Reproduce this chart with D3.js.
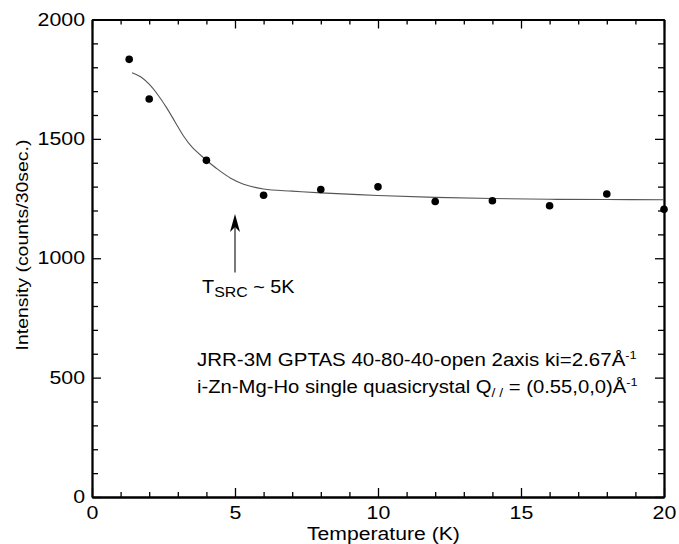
<!DOCTYPE html>
<html><head><meta charset="utf-8">
<script src="https://cdn.jsdelivr.net/npm/d3@7"></script>
<style>
body{margin:0;background:#fff}
text{font-family:"Liberation Sans",Arial,Helvetica,sans-serif;fill:#000}
</style>
</head><body>
<svg id="c" width="679" height="544"></svg>
<script>
// ---- data ----
const temperature = [1.3, 2, 4, 6, 8, 10, 12, 14, 16, 18, 20];
const intensity   = [1833, 1667, 1410, 1264, 1288, 1299, 1238, 1241, 1220, 1269, 1205];
const fitTemperature = [1.4, 1.7, 2.0, 2.3, 2.6, 2.9, 3.2, 3.5, 3.9, 4.4, 4.85, 5.3, 6, 7, 8, 10, 12, 14, 16, 18, 20];
const fitIntensity   = [1777, 1760, 1729, 1685, 1632, 1572, 1512, 1465, 1421, 1372, 1335, 1310, 1290, 1281, 1274, 1263, 1255, 1250, 1247, 1246, 1245];
const xMajorTicks = [0, 5, 10, 15, 20];
const yMajorTicks = [0, 500, 1000, 1500, 2000];
const xMinorTicks = [1,2,3,4,6,7,8,9,11,12,13,14,16,17,18,19];
const yMinorTicks = [100,200,300,400,600,700,800,900,1100,1200,1300,1400,1600,1700,1800,1900];
const arrowTemperature = 5;
const arrowFrom = 940, arrowTo = 1185;
const xTitle = "Temperature (K)";
const yTitle = "Intensity (counts/30sec.)";

// ---- layout ----
const svg = d3.select("#c");
const L = 92, R = 664, T = 19.5, B = 497;
const x = d3.scaleLinear().domain([0, 20]).range([L, R]);
const y = d3.scaleLinear().domain([0, 2000]).range([B, T]);
const SX = 1.22;

function styleAxis(g){
  g.selectAll("path.domain").attr("stroke","#000").attr("stroke-width",1.8);
  g.selectAll(".tick line").attr("stroke","#000").attr("stroke-width",1.3);
}

// minor ticks
svg.append("g").attr("transform",`translate(0,${B})`)
  .call(d3.axisBottom(x).tickValues(xMinorTicks).tickSize(-5).tickSizeOuter(0).tickFormat(""))
  .call(styleAxis);
svg.append("g").attr("transform",`translate(0,${T})`)
  .call(d3.axisTop(x).tickValues(xMinorTicks).tickSize(-5).tickSizeOuter(0).tickFormat(""))
  .call(styleAxis);
svg.append("g").attr("transform",`translate(${L},0)`)
  .call(d3.axisLeft(y).tickValues(yMinorTicks).tickSize(-6).tickSizeOuter(0).tickFormat(""))
  .call(styleAxis);
svg.append("g").attr("transform",`translate(${R},0)`)
  .call(d3.axisRight(y).tickValues(yMinorTicks).tickSize(-6).tickSizeOuter(0).tickFormat(""))
  .call(styleAxis);

// major ticks
const gx = svg.append("g").attr("transform",`translate(0,${B})`)
  .call(d3.axisBottom(x).tickValues(xMajorTicks).tickSize(-9).tickSizeOuter(0).tickPadding(10).tickFormat(d3.format("d")))
  .call(styleAxis);
gx.selectAll("text").attr("font-size",17.5).attr("font-family",null).attr("transform",`scale(${SX},1)`);
svg.append("g").attr("transform",`translate(0,${T})`)
  .call(d3.axisTop(x).tickValues(xMajorTicks).tickSize(-9).tickSizeOuter(0).tickFormat(""))
  .call(styleAxis);
const gy = svg.append("g").attr("transform",`translate(${L},0)`)
  .call(d3.axisLeft(y).tickValues(yMajorTicks).tickSize(-9).tickSizeOuter(0).tickFormat(d3.format("d")))
  .call(styleAxis);
gy.selectAll("text").attr("font-size",17.5).attr("font-family",null)
  .attr("x", -7/SX).attr("transform",`scale(${SX},1)`);
svg.append("g").attr("transform",`translate(${R},0)`)
  .call(d3.axisRight(y).tickValues(yMajorTicks).tickSize(-9).tickSizeOuter(0).tickFormat(""))
  .call(styleAxis);

// fit curve
const fit = fitTemperature.map((t,i)=>[t, fitIntensity[i]]);
svg.append("path").datum(fit)
  .attr("fill","none").attr("stroke","#555").attr("stroke-width",1.1)
  .attr("d", d3.line().x(d=>x(d[0])).y(d=>y(d[1])).curve(d3.curveCatmullRom.alpha(0.5)));

// points
svg.append("g").selectAll("circle").data(temperature)
  .join("circle")
  .attr("cx", d=>x(d)).attr("cy",(d,i)=>y(intensity[i])).attr("r",3.8).attr("fill","#000");

// arrow
const ax = x(arrowTemperature);
svg.append("line").attr("x1",ax).attr("x2",ax)
  .attr("y1",y(arrowFrom)).attr("y2",y(arrowTo)+12)
  .attr("stroke","#222").attr("stroke-width",1.2);
svg.append("path")
  .attr("d",`M${ax},${y(arrowTo)} L${ax-5},${y(arrowTo)+18} L${ax},${y(arrowTo)+13} L${ax+5},${y(arrowTo)+18} Z`)
  .attr("fill","#000");

// helper: stretched text group
function fitGroup(gx0, gy0, targetW, build){
  const g = svg.append("g");
  const t = g.append("text").attr("font-size",17.5);
  build(t);
  const w = t.node().getBBox().width;
  g.attr("transform",`translate(${gx0},${gy0}) scale(${targetW/w},1)`);
  return g;
}

// axis titles
fitGroup(307, 540, 153, t=>t.text(xTitle));
{
  const g = svg.append("g").attr("transform","translate(28,245) rotate(-90)");
  g.append("text").attr("font-size",17).attr("text-anchor","middle")
    .attr("textLength",211).attr("lengthAdjust","spacingAndGlyphs").text(yTitle);
}

// T_SRC label
fitGroup(202, 293, 93, t=>{
  t.append("tspan").text("T");
  t.append("tspan").attr("font-size",14).attr("dy",4).text("SRC");
  t.append("tspan").attr("dy",-4).text(" ~ 5K");
});

// info lines
fitGroup(197, 366, 440, t=>{
  t.append("tspan").text("JRR-3M GPTAS 40-80-40-open 2axis ki=2.67Å");
  t.append("tspan").attr("font-size",11).attr("dy",-7).text("-1");
});
fitGroup(197, 393, 441, t=>{
  t.append("tspan").text("i-Zn-Mg-Ho single quasicrystal Q");
  t.append("tspan").attr("font-size",12).attr("dy",4).text("/ /");
  t.append("tspan").attr("dy",-4).text(" = (0.55,0,0)Å");
  t.append("tspan").attr("font-size",11).attr("dy",-7).text("-1");
});
</script>
</body></html>
